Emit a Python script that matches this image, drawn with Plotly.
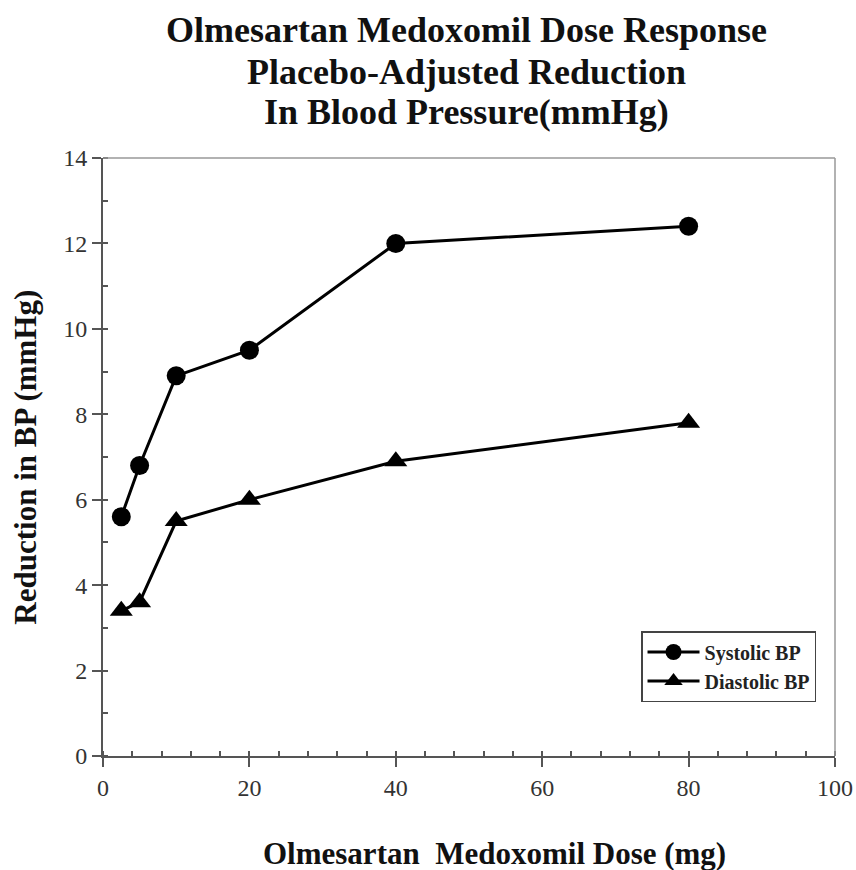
import plotly.graph_objects as go

doses = [2.5, 5, 10, 20, 40, 80]
systolic = [5.6, 6.8, 8.9, 9.5, 12.0, 12.4]
diastolic = [3.4, 3.6, 5.5, 6.0, 6.9, 7.8]
x_ticks = [0, 20, 40, 60, 80, 100]
y_ticks = [0, 2, 4, 6, 8, 10, 12, 14]
title_lines = ["Olmesartan Medoxomil Dose Response",
               "Placebo-Adjusted Reduction",
               "In Blood Pressure(mmHg)"]

SERIF = "Liberation Serif, Times New Roman, serif"

fig = go.Figure()
fig.add_trace(go.Scatter(x=doses, y=systolic, mode="lines+markers", name="<b>Systolic BP</b>",
                         line=dict(color="black", width=3),
                         marker=dict(symbol="circle", size=19, color="black")))
fig.add_trace(go.Scatter(x=doses, y=diastolic, mode="lines+markers", name="<b>Diastolic BP</b>",
                         line=dict(color="black", width=3),
                         marker=dict(symbol="triangle-up", size=20, color="black")))

fig.update_layout(
    width=856, height=870,
    margin=dict(l=103, r=21, t=158, b=114),
    paper_bgcolor="white", plot_bgcolor="white",
    font=dict(family=SERIF, color="#333"),
    legend=dict(x=0.735, y=0.209, xanchor="left", yanchor="top",
                bgcolor="white", bordercolor="#444", borderwidth=1.5,
                font=dict(family=SERIF, size=20, color="#222"),
                itemwidth=52),
    showlegend=True,
)
fig.update_xaxes(range=[0, 100], tickvals=x_ticks, showgrid=False, zeroline=False,
                 automargin=False,
                 showline=True, linecolor="#555", linewidth=2,
                 ticks="outside", ticklen=9, tickwidth=2, tickcolor="#555",
                 minor=dict(dtick=4, ticks="inside", ticklen=5, tickcolor="#555", tickwidth=1.5, showgrid=False),
                 tickfont=dict(family=SERIF, size=24, color="#333"))
fig.update_yaxes(range=[0, 14], tickvals=y_ticks, showgrid=False, zeroline=False,
                 automargin=False,
                 showline=True, linecolor="#555", linewidth=2,
                 ticks="outside", ticklen=9, tickwidth=2, tickcolor="#555",
                 minor=dict(dtick=1, ticks="inside", ticklen=5, tickcolor="#555", tickwidth=1.5, showgrid=False),
                 tickfont=dict(family=SERIF, size=24, color="#333"))

# title lines
for txt, yy in zip(title_lines, [1.214, 1.1445, 1.077]):
    fig.add_annotation(text="<b>" + txt + "</b>", xref="paper", yref="paper",
                       x=0.497, y=yy, xanchor="center", yanchor="middle", showarrow=False,
                       font=dict(family=SERIF, size=36, color="#111"))
# axis titles
fig.add_annotation(text="<b>Olmesartan  Medoxomil Dose (mg)</b>", xref="paper", yref="paper",
                   x=0.5355, y=-0.163, xanchor="center", yanchor="middle", showarrow=False,
                   font=dict(family=SERIF, size=31, color="#111"))
fig.add_annotation(text="<b>Reduction in BP (mmHg)</b>", xref="paper", yref="paper",
                   x=-0.107, y=0.5, xanchor="center", yanchor="middle", showarrow=False,
                   textangle=-90, font=dict(family=SERIF, size=31, color="#111"))
# light frame on top and right
fig.add_shape(type="line", xref="paper", yref="paper", x0=0, x1=1, y0=1, y1=1,
              line=dict(color="#999", width=1.5))
fig.add_shape(type="line", xref="paper", yref="paper", x0=1, x1=1, y0=0, y1=1,
              line=dict(color="#999", width=1.5))
fig.write_html("out.html", config={"displayModeBar": False},
               post_script="document.body.style.margin='0px';")
